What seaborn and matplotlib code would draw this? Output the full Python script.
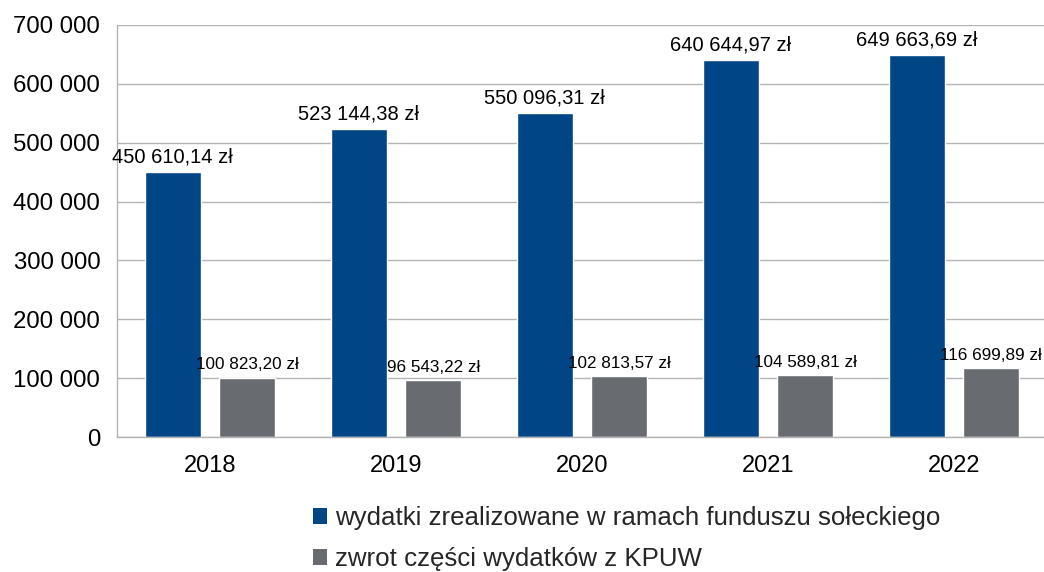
import matplotlib
matplotlib.use("Agg")
import matplotlib.pyplot as plt
from matplotlib.patches import Patch
from matplotlib.ticker import FuncFormatter, MultipleLocator, FixedLocator
import seaborn as sns
import pandas as pd

# data
years = ["2018", "2019", "2020", "2021", "2022"]
wydatki = [450610.14, 523144.38, 550096.31, 640644.97, 649663.69]
zwrot = [100823.20, 96543.22, 102813.57, 104589.81, 116699.89]
series_names = ["wydatki zrealizowane w ramach funduszu sołeckiego",
                "zwrot części wydatków z KPUW"]
colors = ["#004586", "#686c70"]

data = pd.DataFrame({
    "rok": years * 2,
    "kwota": wydatki + zwrot,
    "seria": [series_names[0]] * len(years) + [series_names[1]] * len(years),
})

sns.set_style("white")
plt.rcParams["font.family"] = ["Liberation Sans", "DejaVu Sans"]

fig = plt.figure(figsize=(10.44, 5.72), dpi=100)
ax = fig.add_axes([117 / 1044, 1 - 437 / 572, 930 / 1044, 412 / 572])

sns.barplot(data=data, x="rok", y="kwota", hue="seria", order=years,
            hue_order=series_names, palette=colors, width=0.8, gap=0.25,
            saturation=1, legend=False, ax=ax)


def pln(v):
    s = f"{v:,.2f}".replace(",", " ").replace(".", ",")
    return s + " zł"


ax.bar_label(ax.containers[0], labels=[pln(v) for v in wydatki], padding=4,
             fontsize=14.5, color="#000000")
# the grey series labels are squeezed in the original, so a slightly smaller size
ax.bar_label(ax.containers[1], labels=[pln(v) for v in zwrot], padding=4,
             fontsize=12.3, color="#000000")

ax.set_ylim(0, 700000)
ax.set_xlim(-0.5, 4.5)
ax.yaxis.set_major_locator(MultipleLocator(100000))
ax.yaxis.set_major_formatter(FuncFormatter(lambda v, p: f"{int(v):,}".replace(",", " ")))
ax.grid(axis="y", color="#b3b3b3", linewidth=1)
ax.set_axisbelow(True)

ax.xaxis.set_minor_locator(FixedLocator([i - 0.5 for i in range(len(years) + 1)]))
ax.tick_params(axis="x", which="major", length=0, labelsize=17, pad=13, colors="#000000")
ax.tick_params(axis="x", which="minor", length=7, width=1, color="#b3b3b3")
ax.tick_params(axis="y", length=10, width=1, colors="#b3b3b3", labelcolor="#000000",
               labelsize=17.3, pad=2)
ax.set_xlabel("")
ax.set_ylabel("")

for side in ["top", "right"]:
    ax.spines[side].set_visible(False)
for side in ["left", "bottom"]:
    ax.spines[side].set_color("#b3b3b3")
    ax.spines[side].set_linewidth(1)

handles = [Patch(facecolor=c, edgecolor="none") for c in colors]
fig.legend(handles, series_names, loc="upper left", bbox_to_anchor=(313 / 1044, 1 - 506 / 572),
           frameon=False, fontsize=18.6, handlelength=0.55, handleheight=0.55,
           handletextpad=0.3, labelspacing=0.66, borderpad=0, borderaxespad=0)

plt.savefig("out.png", dpi=100)
